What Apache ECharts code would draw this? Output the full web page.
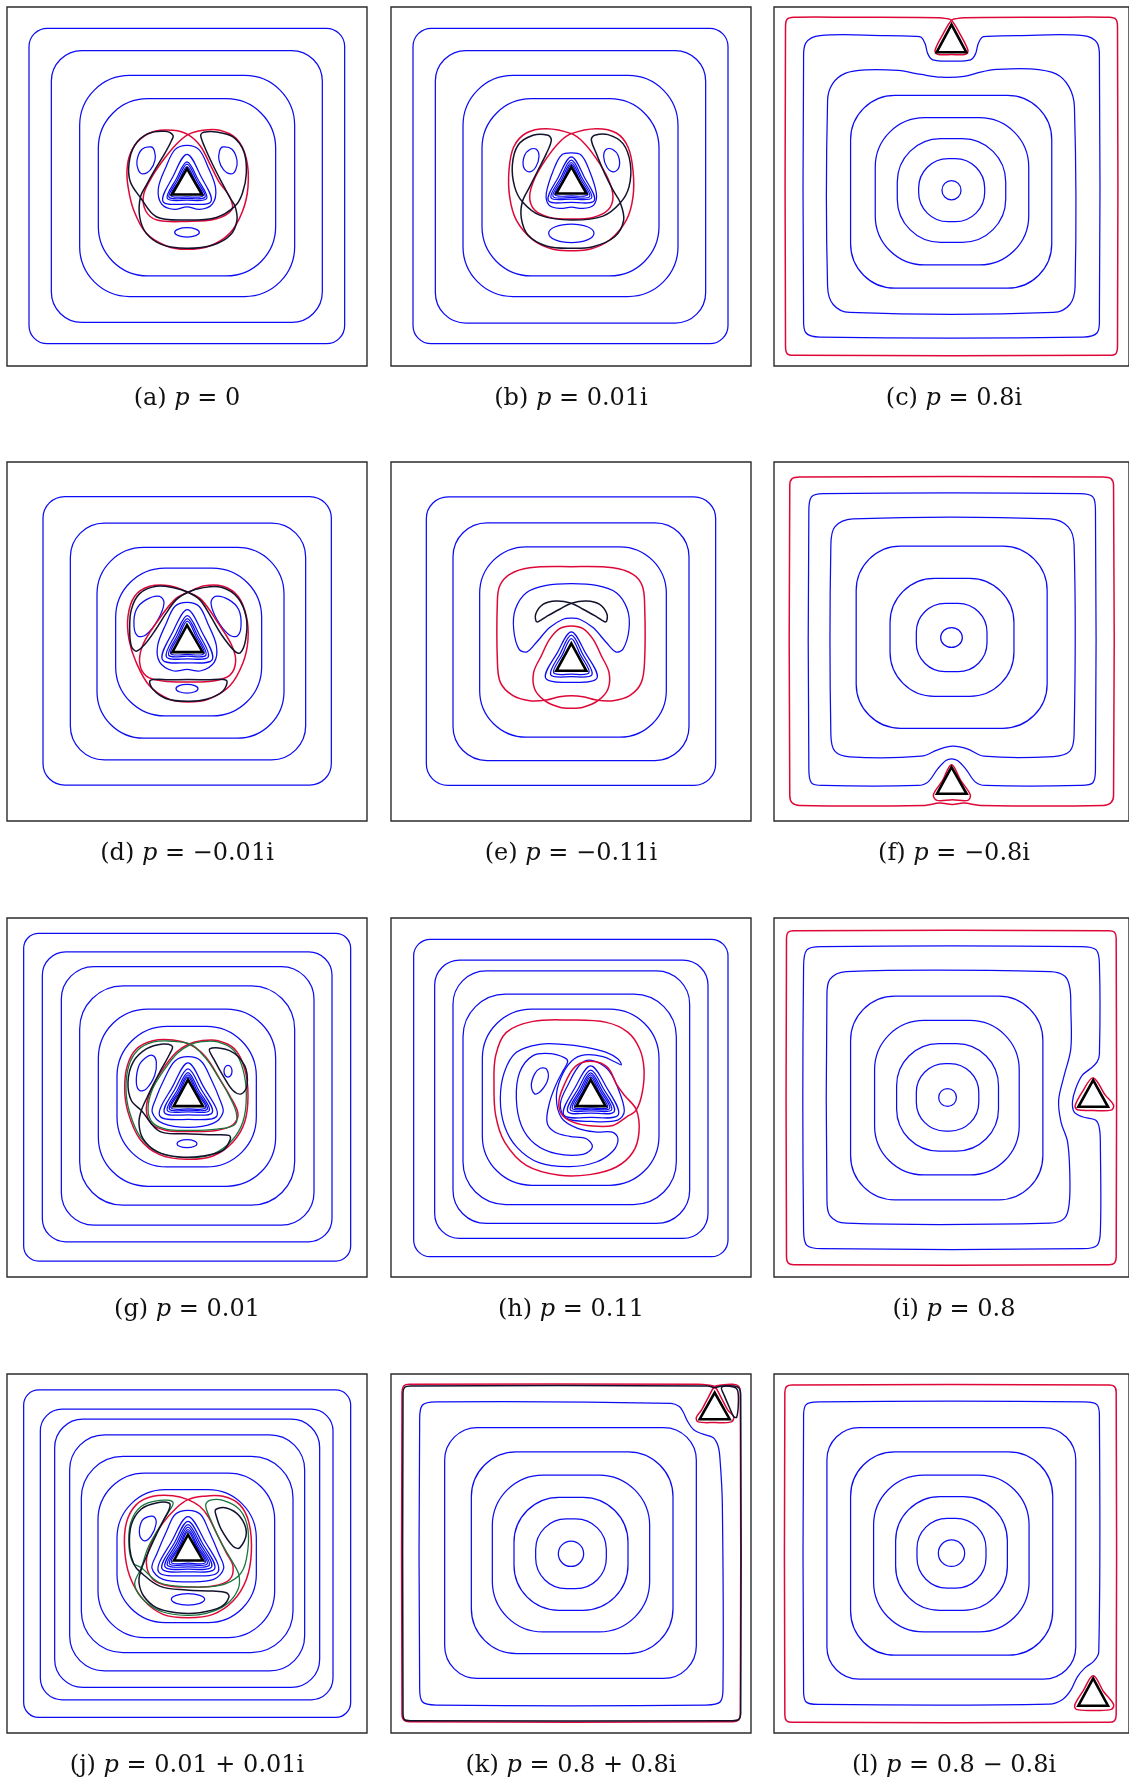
<!DOCTYPE html>
<html>
<head>
<meta charset="utf-8">
<title>Stream-line contours for different p</title>
<script src="https://cdn.jsdelivr.net/npm/echarts/dist/echarts.min.js"></script>
<style>
  html, body { margin: 0; padding: 0; background: #ffffff; }
  #chart { width: 1129px; height: 1786px; }
</style>
</head>
<body>
<div id="chart"></div>
<script>
// Every panel lives in the square [-540, 540] x [-540, 540], y pointing down.
// Rings: [x0, y0, x1, y1, cornerRadius]; ovals: [cx, cy, rx, ry]; curves: closed point lists.

// ---------- (a) p = 0 ----------
const aRings = [[-474,-476,473,473,55],[-407,-409,406,409,92],[-322,-334,323,331,150],[-266,-264,266,269,148]];
const aTri = [[0,-54],[-45,24],[45,24]];
const aBlue = [
  [[0,-59],[25,-15],[48,28],[0,31],[-48,28],[-25,-15]],
  [[0,-67],[29,-18],[54,32],[0,36],[-54,32],[-29,-18]],
  [[0,-74],[33,-21],[59,36],[0,41],[-59,36],[-33,-21]],
  [[0,-97],[42,-30],[72,45],[0,53],[-72,45],[-42,-30]],
  [[0,-124],[36,-111],[63,-59],[86,6],[76,53],[38,69],[0,61],[-38,69],[-76,53],[-86,6],[-63,-59],[-36,-111]],
  [[108,-119],[135,-112],[150,-79],[146,-50],[132,-38],[110,-50],[96,-79],[98,-108]],
  [[-108,-119],[-135,-112],[-150,-79],[-146,-50],[-132,-38],[-110,-50],[-96,-79],[-98,-108]]
];
const aOvals = [[0,138,37,14]];
const aRed = [[3,-156],[-42,-169],[-97,-166],[-142,-141],[-170,-99],[-180,-49],[-176,6],[-160,71],[-122,141],[-62,179],[-2,189],[68,179],[128,141],[166,76],[183,1],[178,-84],[148,-144],[98,-169],[48,-169],[3,-156],[-32,-127],[-70,-81],[-104,-31],[-130,24],[-124,73],[-90,101],[-2,105],[86,98],[135,69],[128,31],[96,-14],[68,-69],[40,-122]];
const aBlack = [[-140,33],[-92,91],[-2,101],[88,93],[144,59],[166,21],[178,-39],[171,-104],[138,-149],[88,-164],[50,-163],[41,-154],[53,-119],[78,-64],[106,-9],[130,36],[144,59],[150,101],[130,146],[78,176],[-2,186],[-77,174],[-122,141],[-142,91],[-140,33],[-122,-4],[-97,-49],[-67,-99],[-47,-137],[-42,-154],[-67,-166],[-117,-159],[-157,-124],[-174,-69],[-170,-14]];

// ---------- (b) p = 0.01i ----------
const bRings = [[-474,-476,471,473,55],[-407,-409,404,411,92],[-324,-334,321,331,150],[-267,-264,264,269,148]];
const bTri = [[1,-59],[-44,21],[46,21]];
const bBlue = [
  [[1,-66],[26,-18],[50,25],[1,28],[-48,25],[-24,-18]],
  [[1,-72],[30,-21],[56,30],[1,33],[-54,30],[-28,-21]],
  [[1,-79],[34,-24],[62,34],[1,38],[-60,34],[-32,-24]],
  [[1,-89],[40,-28],[70,42],[1,48],[-68,42],[-38,-28]],
  [[1,-101],[30,-95],[52,-56],[76,20],[68,56],[35,66],[1,62],[-33,66],[-66,56],[-74,20],[-50,-56],[-28,-95]],
  [[-104,-112],[-96,-90],[-106,-58],[-126,-44],[-142,-58],[-140,-92],[-122,-112]],
  [[106,-112],[98,-90],[108,-58],[128,-44],[144,-58],[142,-92],[124,-112]]
];
const bOvals = [[1,141,68,28]];
const bRed = [[1,-159],[-74,-174],[-134,-161],[-172,-119],[-186,-49],[-184,31],[-164,101],[-114,161],[-54,189],[1,193],[56,189],[116,161],[166,101],[186,31],[186,-49],[171,-119],[136,-161],[76,-174],[1,-159],[-34,-134],[-74,-84],[-109,-24],[-124,31],[-109,71],[-64,93],[1,98],[66,93],[111,71],[126,31],[111,-24],[76,-84],[36,-134]];
const bBlack = [[-146,46],[-94,86],[1,101],[96,89],[148,49],[174,1],[178,-69],[156,-129],[111,-156],[71,-154],[61,-141],[76,-99],[101,-39],[126,11],[148,49],[158,101],[131,151],[66,181],[1,186],[-74,179],[-129,146],[-149,96],[-146,46],[-124,1],[-99,-49],[-74,-99],[-59,-139],[-69,-154],[-114,-154],[-159,-124],[-176,-64],[-169,1]];

// ---------- (c) p = 0.8i ----------
const cRings = [[-307,-274,305,306,135],[-232,-207,235,236,150],[-165,-144,165,168,132],[-100,-84,101,106,90]];
const cTri = [[0,-487],[-45,-404],[45,-404]];
const cBlue = [
  [[-450,-380],[-443,-432],[-400,-454],[-200,-454],[-110,-452],[-92,-449],[-80,-429],[-72,-399],[-57,-381],[0,-377],[58,-381],[73,-399],[81,-429],[93,-449],[111,-452],[200,-454],[400,-454],[443,-432],[450,-380],[450,390],[443,440],[400,453],[-400,453],[-443,440],[-450,390]],
  [[-377,-259],[-362,-309],[-322,-341],[-262,-351],[-162,-349],[-92,-337],[-32,-329],[38,-331],[88,-344],[138,-352],[238,-354],[318,-339],[358,-299],[374,-239],[376,300],[360,355],[310,379],[-310,379],[-360,355],[-377,300]]
];
const cOvals = [[0,11,29,29]];
const cRed = [[-480,-509],[-300,-509],[-40,-508],[-15,-505],[0,-500],[25,-460],[50,-410],[43,-398],[0,-397],[-43,-398],[-50,-410],[-25,-460],[0,-500],[15,-505],[40,-508],[300,-509],[480,-509],[500,-503],[505,-480],[505,480],[500,503],[480,508],[-480,508],[-500,503],[-505,480],[-505,-480],[-500,-503]];

// ---------- (d) p = -0.01i ----------
const dRings = [[-432,-436,433,432,65],[-350,-356,356,356,102],[-270,-283,291,291,140],[-214,-221,224,224,148]];
const dTri = [[0,-49],[-44,32],[47,32]];
const dBlue = [
  [[1,-61],[27,-15],[51,36],[1,39],[-49,36],[-25,-15]],
  [[1,-69],[31,-18],[57,41],[1,44],[-55,41],[-29,-18]],
  [[1,-78],[36,-22],[64,46],[1,52],[-62,46],[-34,-22]],
  [[1,-96],[44,-30],[76,54],[1,64],[-74,54],[-42,-30]],
  [[0,-118],[36,-106],[62,-55],[88,12],[82,62],[42,88],[0,84],[-42,88],[-82,62],[-88,12],[-62,-55],[-36,-106]],
  [[-82,-136],[-69,-116],[-87,-66],[-122,-21],[-147,-16],[-159,-46],[-152,-96],[-122,-126]],
  [[85,-136],[72,-116],[90,-66],[125,-21],[150,-16],[162,-46],[155,-96],[125,-126]]
];
const dOvals = [[0,142,33,13]];
const dRed = [[3,-148],[-52,-168],[-112,-166],[-157,-136],[-177,-76],[-174,-6],[-152,64],[-112,134],[-52,174],[3,182],[63,174],[128,134],[168,64],[183,-6],[178,-76],[153,-136],[108,-166],[53,-168],[3,-148],[-37,-126],[-92,-56],[-132,9],[-142,64],[-122,104],[-72,119],[3,122],[78,119],[128,102],[146,59],[133,9],[93,-56],[43,-126]];
const dBlackLobes = [[3,-148],[-32,-126],[-62,-86],[-94,-36],[-127,9],[-152,29],[-167,14],[-172,-36],[-167,-96],[-142,-144],[-92,-166],[-37,-161],[3,-148],[38,-126],[68,-81],[103,-21],[143,29],[160,34],[176,-6],[178,-71],[153,-131],[103,-163],[43,-161]];
const dBlackCap = [[-110,117],[-50,115],[3,114],[60,115],[118,117],[108,149],[58,174],[3,180],[-62,172],[-102,144]];

// ---------- (e) p = -0.11i ----------
const eRings = [[-434,-435,434,433,65],[-354,-357,354,358,102],[-274,-285,286,288,140]];
const eTri = [[1,6],[-44,88],[46,88]];
const eBlue = [
  [[1,-9],[28,40],[54,94],[1,98],[-52,94],[-26,40]],
  [[1,-19],[34,36],[63,100],[1,106],[-61,100],[-32,36]],
  [[1,-29],[42,32],[78,110],[1,123],[-76,110],[-40,32]],
  [[1,-174],[76,-169],[136,-147],[169,-97],[174,-37],[156,23],[134,31],[106,3],[66,-42],[26,-67],[1,-70],[-24,-67],[-64,-42],[-104,3],[-132,31],[-156,23],[-172,-37],[-167,-97],[-134,-147],[-74,-169]]
];
const eRedOuter = [[-221,-117],[-214,-167],[-184,-202],[-124,-222],[1,-225],[126,-222],[186,-202],[214,-167],[221,-107],[221,53],[211,123],[176,163],[126,178],[76,176],[36,166],[1,163],[-34,166],[-74,176],[-124,178],[-174,163],[-212,123],[-221,53]];
const eRedInner = [[1,-47],[36,-39],[66,-7],[91,43],[114,93],[111,143],[81,178],[36,198],[1,201],[-34,198],[-79,178],[-109,143],[-112,93],[-89,43],[-64,-7],[-34,-39]];
const eBlack = [[1,-115],[-44,-122],[-84,-112],[-106,-82],[-102,-59],[-74,-75],[-34,-97],[1,-115],[46,-122],[86,-112],[108,-82],[104,-59],[76,-75],[36,-97]];

// ---------- (f) p = -0.8i ----------
const fRings = [[-290,-287,291,261,135],[-187,-190,190,165,135],[-107,-115,108,91,88]];
const fTri = [[0,378],[-44,458],[46,458]];
const fBlue = [
  [[-434,-390],[-426,-435],[-390,-445],[390,-445],[430,-435],[438,-390],[438,380],[430,425],[390,433],[103,433],[73,423],[43,383],[18,358],[0,353],[-17,358],[-42,383],[-72,423],[-102,433],[-390,433],[-426,425],[-434,380]],
  [[-367,-290],[-355,-345],[-300,-369],[300,-369],[355,-345],[373,-290],[373,280],[360,330],[310,346],[98,345],[48,323],[3,315],[-42,326],[-92,345],[-310,347],[-355,330],[-367,280]]
];
const fOvals = [[0,-12,33,30]];
const fRedOuter = [[-462,-495],[462,-495],[485,-490],[493,-470],[493,463],[485,485],[462,493],[88,493],[38,486],[3,490],[-37,486],[-82,493],[-462,493],[-485,485],[-492,463],[-492,-470],[-485,-490]];
const fRedLoop = [[0,371],[28,418],[57,461],[50,478],[3,476],[-44,478],[-55,461],[-27,418]];

// ---------- (g) p = 0.01 ----------
const gRings = [[-490,-494,491,492,45],[-434,-438,435,434,70],[-377,-394,381,384,98],[-322,-336,323,324,130],[-266,-266,266,267,148],[-210,-214,208,209,150]];
const gTri = [[3,-54],[-40,26],[48,26]];
const gBlue = [
  [[3,-62],[28,-16],[56,31],[4,34],[-48,31],[-22,-16]],
  [[3,-68],[31,-19],[61,35],[4,38],[-53,35],[-25,-19]],
  [[3,-75],[35,-22],[67,39],[4,43],[-59,39],[-29,-22]],
  [[3,-86],[41,-27],[76,45],[4,52],[-68,45],[-35,-27]],
  [[3,-104],[48,-35],[90,55],[4,66],[-82,55],[-42,-35]],
  [[3,-123],[42,-110],[70,-60],[100,10],[108,45],[78,78],[3,90],[-72,78],[-104,45],[-96,10],[-66,-60],[-36,-110]],
  [[-102,-126],[-92,-106],[-97,-66],[-122,-26],[-142,-21],[-152,-46],[-144,-96],[-122,-121]]
];
const gOvals = [[123,-79,12,18],[0,139,30,12]];
const gRed = [[6,-161],[-42,-173],[-102,-171],[-152,-146],[-179,-96],[-187,-26],[-177,44],[-142,124],[-82,172],[-2,186],[78,176],[138,134],[173,74],[183,-6],[173,-86],[143,-146],[93,-171],[43,-171],[6,-161],[-32,-136],[-72,-86],[-107,-26],[-122,34],[-107,79],[-62,99],[8,102],[88,99],[138,82],[153,49],[128,-6],[98,-56],[68,-106],[43,-136]];
const gGreen = [[12,-160],[-40,-169],[-100,-167],[-148,-142],[-175,-94],[-183,-26],[-173,42],[-139,120],[-80,167],[-2,181],[76,171],[134,130],[168,72],[178,-6],[168,-84],[140,-142],[92,-167],[45,-168],[12,-160],[-28,-134],[-68,-84],[-103,-26],[-117,34],[-103,76],[-60,96],[8,99],[90,95],[143,82],[148,46],[125,-8],[96,-58],[66,-106],[42,-134]];
const gBlackMain = [[-137,39],[-82,102],[-2,109],[78,112],[126,114],[130,126],[108,159],[48,176],[-22,179],[-92,162],[-132,124],[-144,79],[-137,39],[-112,-16],[-82,-76],[-52,-131],[-44,-154],[-72,-161],[-122,-146],[-162,-106],[-177,-46],[-167,9]];
const gBlackRight = [[68,-146],[128,-141],[173,-96],[180,-36],[163,-11],[138,-21],[108,-66],[83,-111]];

// ---------- (h) p = 0.11 ----------
const hRings = [[-472,-476,471,479,50],[-409,-413,411,424,75],[-354,-381,356,379,100],[-324,-311,316,322,128],[-266,-266,264,264,148]];
const hTri = [[59,-54],[16,26],[104,26]];
const hBlue = [
  [[59,-62],[84,-17],[110,30],[60,31],[10,30],[35,-17]],
  [[59,-68],[88,-20],[116,33],[60,35],[4,33],[31,-20]],
  [[59,-74],[92,-23],[122,37],[60,40],[-2,37],[27,-23]],
  [[59,-82],[97,-27],[130,42],[60,47],[-10,42],[22,-27]],
  [[59,-95],[105,-33],[142,52],[60,60],[-22,52],[14,-33]],
  [[62,-112],[110,-85],[138,-35],[160,40],[140,68],[60,72],[-15,62],[-32,20],[-8,-40],[28,-100]],
  [[-74,-86],[-69,-56],[-89,-21],[-109,-11],[-119,-36],[-109,-71],[-92,-88]],
  [[-20,-120],[-60,-132],[-114,-126],[-154,-76],[-164,4],[-149,84],[-109,139],[-44,169],[36,171],[64,149],[46,124],[-4,117],[-49,104],[-72,74],[-64,14],[-44,-41],[-24,-80],[-10,-108]],
  [[151,-98],[141,-116],[106,-136],[46,-151],[-24,-160],[-94,-160],[-164,-136],[-200,-76],[-212,4],[-200,84],[-162,150],[-96,196],[-4,208],[76,194],[126,161],[141,124],[124,104],[76,104],[20,93],[-28,62],[-44,0],[-30,-60],[2,-110],[41,-128],[96,-123],[134,-106]]
];
const hRed = [[196,37],[214,-16],[219,-86],[206,-146],[171,-196],[106,-226],[-4,-233],[-114,-229],[-194,-196],[-226,-126],[-231,-36],[-226,54],[-199,134],[-134,204],[-34,234],[56,232],[136,209],[186,164],[204,104],[196,37],[161,-6],[136,-41],[114,-86],[81,-106],[36,-106],[6,-86],[-19,-41],[-36,9],[-29,49],[6,74],[66,86],[126,84],[166,59]];

// ---------- (i) p = 0.8 ----------
const iRings = [[-307,-305,278,308,135],[-234,-232,206,233,150],[-167,-162,143,161,128],[-107,-102,83,101,88]];
const iTri = [[431,-52],[386,28],[476,28]];
const iBlue = [
  [[-450,-390],[-440,-444],[-395,-454],[395,-454],[440,-444],[450,-400],[450,-130],[443,-107],[423,-87],[398,-67],[378,-27],[368,13],[373,43],[398,58],[438,68],[450,93],[453,153],[453,400],[443,445],[400,455],[-395,455],[-440,445],[-450,400]],
  [[-379,-300],[-370,-355],[-320,-379],[300,-379],[345,-365],[360,-330],[363,-267],[363,-147],[343,-67],[326,8],[333,73],[353,133],[360,233],[358,320],[345,362],[300,378],[-320,378],[-370,355],[-379,300]]
];
const iOvals = [[-12,0,27,27]];
const iRedOuter = [[-480,-502],[480,-502],[496,-497],[501,-480],[501,480],[496,498],[480,503],[-480,503],[-497,498],[-502,480],[-502,-480],[-497,-497]];
const iRedLoop = [[431,-59],[468,-7],[493,23],[486,38],[431,39],[383,37],[376,25],[398,-17]];

// ---------- (j) p = 0.01 + 0.01i ----------
const jRings = [[-490,-492,491,493,45],[-440,-434,438,440,65],[-397,-404,398,403,85],[-352,-357,353,353,105],[-317,-292,318,298,125],[-267,-242,263,253,140],[-210,-192,208,208,145]];
const jTri = [[3,-57],[-39,21],[48,21]];
const jBlue = [
  [[3,-66],[29,-20],[55,27],[4,29],[-47,27],[-21,-20]],
  [[3,-72],[32,-22],[61,31],[4,34],[-53,31],[-24,-22]],
  [[3,-79],[36,-25],[67,35],[4,40],[-59,35],[-28,-25]],
  [[3,-87],[40,-29],[74,40],[4,47],[-66,40],[-32,-29]],
  [[3,-97],[45,-33],[83,46],[4,55],[-75,46],[-37,-33]],
  [[3,-111],[52,-40],[94,54],[4,67],[-86,54],[-44,-40]],
  [[3,-130],[40,-118],[65,-70],[95,0],[110,45],[80,78],[4,85],[-72,78],[-105,45],[-90,0],[-60,-70],[-35,-118]],
  [[-98,-110],[-93,-88],[-108,-52],[-128,-38],[-142,-55],[-137,-95],[-118,-110]]
];
const jOvals = [[3,138,50,17]];
const jRed = [[3,-162],[-42,-174],[-102,-172],[-152,-147],[-182,-92],[-187,-12],[-172,68],[-132,138],[-72,183],[3,193],[78,183],[138,143],[178,78],[193,-2],[186,-92],[158,-147],[108,-172],[48,-172],[3,-162],[-32,-137],[-72,-92],[-107,-32],[-122,28],[-102,78],[-52,98],[8,101],[78,98],[128,78],[138,38],[118,-2],[88,-62],[63,-112],[38,-142]];
const jGreen = [[-137,43],[-82,88],[3,100],[98,96],[156,66],[178,18],[183,-72],[158,-132],[108,-160],[68,-160],[56,-144],[73,-97],[103,-32],[138,28],[156,66],[153,108],[118,153],[58,180],[-2,186],[-72,176],[-127,143],[-157,93],[-137,43],[-117,-17],[-87,-72],[-57,-122],[-42,-154],[-82,-160],[-137,-142],[-169,-92],[-174,-22],[-162,28]];
const jBlackMain = [[-140,56],[-82,98],[-2,110],[78,113],[118,118],[126,131],[103,160],[38,178],[-32,178],[-92,163],[-130,128],[-144,88],[-140,56],[-117,-2],[-92,-57],[-67,-107],[-52,-137],[-54,-152],[-92,-152],[-137,-134],[-167,-87],[-172,-17],[-159,33]];
const jBlackRight = [[86,-132],[118,-137],[158,-112],[178,-62],[158,-17],[138,-22],[103,-72],[88,-112]];

// ---------- (k) p = 0.8 + 0.8i ----------
const kRings = [[-379,-379,376,376,98],[-299,-306,306,301,135],[-236,-236,236,236,152],[-171,-169,171,171,135],[-106,-104,106,106,92]];
const kTri = [[431,-484],[386,-404],[476,-404]];
const kBlue = [
  [[-454,-400],[-446,-446],[-405,-456],[300,-452],[325,-442],[337,-425],[350,-397],[368,-372],[396,-359],[426,-349],[441,-324],[447,-284],[454,-150],[456,400],[448,446],[405,456],[-405,456],[-446,446],[-454,400]]
];
const kOvals = [[0,1,38,38]];
const kRed = [[-485,-509],[380,-509],[410,-507],[431,-502],[450,-470],[470,-432],[488,-412],[481,-396],[431,-394],[381,-396],[376,-409],[392,-432],[412,-470],[431,-502],[452,-507],[485,-509],[503,-503],[508,-485],[508,485],[503,501],[485,506],[-485,506],[-502,501],[-507,485],[-507,-485],[-502,-504]];
const kBlackOuter = [[-482,-504],[410,-504],[431,-499],[452,-504],[490,-504],[505,-497],[509,-475],[509,480],[503,499],[482,503],[-482,503],[-500,499],[-504,480],[-504,-482],[-499,-500]];
const kBlackLobe = [[452,-500],[488,-501],[500,-490],[502,-450],[497,-410],[488,-412],[475,-440],[460,-475]];

// ---------- (l) p = 0.8 - 0.8i ----------
const lRings = [[-379,-379,378,378,98],[-307,-306,308,306,135],[-237,-236,236,236,152],[-170,-171,170,171,135],[-105,-106,105,104,92]];
const lTri = [[431,376],[386,458],[476,458]];
const lBlue = [
  [[-450,-400],[-443,-447],[-400,-456],[400,-456],[443,-447],[450,-400],[448,296],[433,324],[406,344],[383,371],[363,411],[338,439],[298,453],[-400,454],[-443,446],[-450,400]]
];
const lOvals = [[0,-1,40,40]];
const lRedOuter = [[-485,-507],[480,-507],[496,-502],[501,-485],[501,485],[496,503],[480,508],[-485,508],[-502,503],[-507,485],[-507,-485],[-502,-502]];
const lRedLoop = [[431,368],[463,416],[493,454],[486,469],[431,472],[380,469],[375,456],[400,414]];

// ---------- captions ----------
const captionTags = ['(a)','(b)','(c)','(d)','(e)','(f)','(g)','(h)','(i)','(j)','(k)','(l)'];
const captionValues = ['0','0.01i','0.8i','\u22120.01i','\u22120.11i','\u22120.8i','0.01','0.11','0.8','0.01 + 0.01i','0.8 + 0.8i','0.8 \u2212 0.8i'];

const panels = [
  {rings:aRings, ovals:aOvals, blue:aBlue, red:[aRed], green:[], black:[aBlack], tri:aTri},
  {rings:bRings, ovals:bOvals, blue:bBlue, red:[bRed], green:[], black:[bBlack], tri:bTri},
  {rings:cRings, ovals:cOvals, blue:cBlue, red:[cRed], green:[], black:[], tri:cTri},
  {rings:dRings, ovals:dOvals, blue:dBlue, red:[dRed], green:[], black:[dBlackLobes, dBlackCap], tri:dTri},
  {rings:eRings, ovals:[], blue:eBlue, red:[eRedOuter, eRedInner], green:[], black:[eBlack], tri:eTri},
  {rings:fRings, ovals:fOvals, blue:fBlue, red:[fRedOuter, fRedLoop], green:[], black:[], tri:fTri},
  {rings:gRings, ovals:gOvals, blue:gBlue, red:[gRed], green:[gGreen], black:[gBlackMain, gBlackRight], tri:gTri},
  {rings:hRings, ovals:[], blue:hBlue, red:[hRed], green:[], black:[], tri:hTri},
  {rings:iRings, ovals:iOvals, blue:iBlue, red:[iRedOuter, iRedLoop], green:[], black:[], tri:iTri},
  {rings:jRings, ovals:jOvals, blue:jBlue, red:[jRed], green:[jGreen], black:[jBlackMain, jBlackRight], tri:jTri},
  {rings:kRings, ovals:kOvals, blue:kBlue, red:[kRed], green:[], black:[kBlackOuter, kBlackLobe], tri:kTri},
  {rings:lRings, ovals:lOvals, blue:lBlue, red:[lRedOuter, lRedLoop], green:[], black:[], tri:lTri}
];

// ---------- layout and styles ----------
const COL_LEFT = [7, 391, 774];
const ROW_TOP = [7, 462, 918, 1374];
const CAPTION_Y = [399, 854, 1310, 1766];
const PANEL_W = 360, PANEL_H = 359;
const BLUE = '#0c0cf2', RED = '#de0838', GREEN = '#17773d', DARK = '#12122e';
const SERIF = '"DejaVu Serif", "Liberation Serif", serif';

function ringSeries(g, rows) {
  return {
    type: 'custom', xAxisIndex: g, yAxisIndex: g, data: rows, silent: true, animation: false,
    renderItem: function (params, api) {
      const p0 = api.coord([api.value(0), api.value(1)]);
      const p1 = api.coord([api.value(2), api.value(3)]);
      const r = api.size([api.value(4), 0])[0];
      return {
        type: 'rect',
        shape: { x: Math.min(p0[0], p1[0]), y: Math.min(p0[1], p1[1]),
                 width: Math.abs(p1[0] - p0[0]), height: Math.abs(p1[1] - p0[1]), r: r },
        style: { fill: 'none', stroke: BLUE, lineWidth: 1.25 }
      };
    }
  };
}

function ovalSeries(g, rows) {
  return {
    type: 'custom', xAxisIndex: g, yAxisIndex: g, data: rows, silent: true, animation: false,
    renderItem: function (params, api) {
      const c = api.coord([api.value(0), api.value(1)]);
      const s = api.size([api.value(2), api.value(3)]);
      return { type: 'ellipse', shape: { cx: c[0], cy: c[1], rx: s[0], ry: s[1] },
               style: { fill: 'none', stroke: BLUE, lineWidth: 1.25 } };
    }
  };
}

function curveSeries(g, pts, color, width, smooth) {
  return {
    type: 'custom', xAxisIndex: g, yAxisIndex: g, data: pts, silent: true, animation: false,
    renderItem: function (params, api) {
      if (params.dataIndex !== 0) return null;
      const px = pts.map(function (p) { return api.coord(p); });
      return { type: 'polygon', shape: { points: px, smooth: smooth },
               style: { fill: 'none', stroke: color, lineWidth: width, lineJoin: 'round' } };
    }
  };
}

function triangleSeries(g, pts) {
  return {
    type: 'custom', xAxisIndex: g, yAxisIndex: g, data: pts, silent: true, animation: false,
    renderItem: function (params, api) {
      if (params.dataIndex !== 0) return null;
      const px = pts.map(function (p) { return api.coord(p); });
      return { type: 'polygon', shape: { points: px },
               style: { fill: '#ffffff', stroke: '#000000', lineWidth: 2.6, lineJoin: 'miter' } };
    }
  };
}

const grid = [], xAxis = [], yAxis = [], series = [], graphic = [];
panels.forEach(function (pn, k) {
  const col = k % 3, row = Math.floor(k / 3);
  grid.push({ left: COL_LEFT[col], top: ROW_TOP[row], width: PANEL_W, height: PANEL_H,
              show: true, borderColor: '#2b2b2b', borderWidth: 1.4, backgroundColor: 'transparent' });
  xAxis.push({ type: 'value', gridIndex: k, min: -540, max: 540, show: false });
  yAxis.push({ type: 'value', gridIndex: k, min: -540, max: 540, inverse: true, show: false });

  series.push(ringSeries(k, pn.rings));
  if (pn.ovals.length) series.push(ovalSeries(k, pn.ovals));
  pn.blue.forEach(function (c) { series.push(curveSeries(k, c, BLUE, 1.25, 0.35)); });
  pn.red.forEach(function (c) { series.push(curveSeries(k, c, RED, 1.5, 0.35)); });
  pn.green.forEach(function (c) { series.push(curveSeries(k, c, GREEN, 1.3, 0.35)); });
  pn.black.forEach(function (c) { series.push(curveSeries(k, c, DARK, 1.5, 0.35)); });
  series.push(triangleSeries(k, pn.tri));

  graphic.push({
    type: 'text', silent: true,
    x: COL_LEFT[col] + PANEL_W / 2, y: CAPTION_Y[row],
    style: {
      text: '{n|' + captionTags[k] + ' }{i|p}{n| = ' + captionValues[k] + '}',
      align: 'center', verticalAlign: 'middle', textAlign: 'center', textVerticalAlign: 'middle',
      rich: {
        n: { fontFamily: SERIF, fontSize: 24, fill: '#111111', color: '#111111' },
        i: { fontFamily: SERIF, fontSize: 24, fontStyle: 'italic', fill: '#111111', color: '#111111' }
      }
    }
  });
});

const chart = echarts.init(document.getElementById('chart'), null, { renderer: 'canvas' });
chart.setOption({
  backgroundColor: '#ffffff',
  animation: false,
  grid: grid, xAxis: xAxis, yAxis: yAxis,
  series: series,
  graphic: graphic
});
</script>
</body>
</html>
